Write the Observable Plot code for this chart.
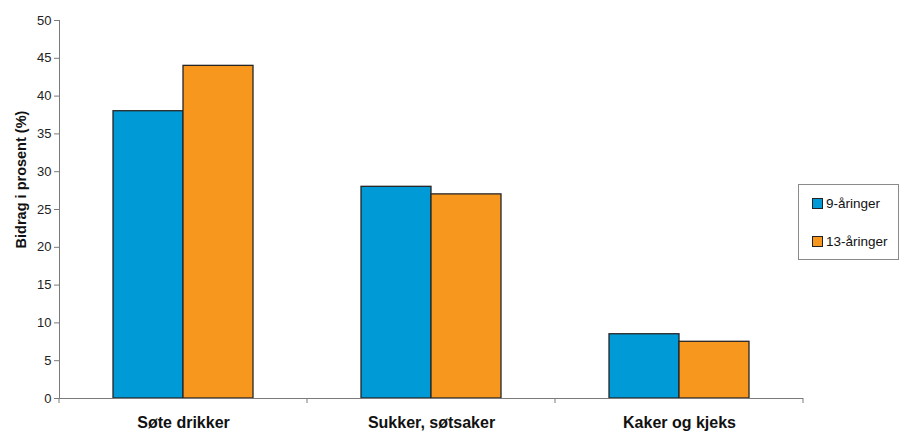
<!DOCTYPE html>
<html><head><meta charset="utf-8">
<script src="https://cdn.jsdelivr.net/npm/d3@7"></script>
<script src="https://cdn.jsdelivr.net/npm/@observablehq/plot@0.6"></script>
<style>
body{margin:0;background:#fff;}
#wrap{position:relative;width:904px;height:432px;overflow:hidden;font-family:Arial,"Liberation Sans",sans-serif;}
#legend{position:absolute;left:798px;top:184px;width:101px;height:76px;border:1px solid #8a8a8a;box-sizing:border-box;background:#fff;}
.li{position:absolute;left:13px;font-size:13.5px;color:#111;display:flex;align-items:center;}
.sw{width:9px;height:9px;border:1px solid #222;margin-right:3px;}
</style></head>
<body><div id="wrap"></div>
<script>
const categories = ["Søte drikker", "Sukker, søtsaker", "Kaker og kjeks"];
const seriesNames = ["9-åringer", "13-åringer"];
const values9 = [38, 28, 8.5];
const values13 = [44, 27, 7.5];
const colors = ["#009bd6", "#f7971e"];
const yTicks = [0, 5, 10, 15, 20, 25, 30, 35, 40, 45, 50];
const yLabel = "Bidrag i prosent (%)";

const data = [];
categories.forEach((c, i) => {
  data.push({cat: c, series: seriesNames[0], value: values9[i]});
  data.push({cat: c, series: seriesNames[1], value: values13[i]});
});

const plot = Plot.plot({
  width: 904, height: 432,
  marginLeft: 58, marginRight: 100, marginTop: 20, marginBottom: 34,
  style: {fontFamily: "Arial, 'Liberation Sans', sans-serif", background: "#fff"},
  fx: {domain: categories, padding: 0, label: null},
  x: {domain: seriesNames, paddingInner: 0, paddingOuter: 0.76, axis: null},
  y: {domain: [0, 50], axis: null},
  color: {domain: seriesNames, range: colors},
  marks: [
    Plot.barY(data, {fx: "cat", x: "series", y: "value", fill: "series", stroke: "#262626", strokeWidth: 1.3}),
    Plot.ruleY([0], {stroke: "#7a7a7a"}),
    Plot.axisY({ticks: yTicks, tickSize: 5, tickPadding: 3, fontSize: 13, label: null, stroke: "#7a7a7a", color: "#222"}),
    Plot.frame({anchor: "left", stroke: "#7a7a7a", facetAnchor: "left"}),
    Plot.axisFx({anchor: "bottom", tickSize: 0, tickPadding: 18, fontSize: 16, fontWeight: "bold", fontFamily: "'Liberation Sans Narrow', 'Arial Narrow', sans-serif", label: null, color: "#111"}),
    Plot.text([yLabel], {frameAnchor: "left", textAnchor: "middle", rotate: -90, dx: -38, dy: -30, fontSize: 14.5, fontWeight: "bold", fill: "#111", facetAnchor: "left"})
  ]
});

// boundary tick marks under the x axis, positioned with the fx scale
const fx = plot.scale("fx");
const yScale = plot.scale("y");
const y0 = yScale.apply(0);
const edges = categories.map(c => fx.apply(c)).concat([fx.apply(categories[categories.length-1]) + fx.bandwidth]);
d3.select(plot).append("g").selectAll("line").data(edges).join("line")
  .attr("x1", d => d).attr("x2", d => d)
  .attr("y1", y0).attr("y2", y0 + 5)
  .attr("stroke", "#7a7a7a");

const wrap = document.getElementById("wrap");
wrap.appendChild(plot);
const lg = document.createElement("div");
lg.id = "legend";
seriesNames.forEach((s, i) => {
  const it = document.createElement("div");
  it.className = "li";
  it.style.top = (i === 0 ? 11 : 49) + "px";
  it.innerHTML = `<span class="sw" style="background:${colors[i]}"></span><span>${s}</span>`;
  lg.appendChild(it);
});
wrap.appendChild(lg);
</script></body></html>
